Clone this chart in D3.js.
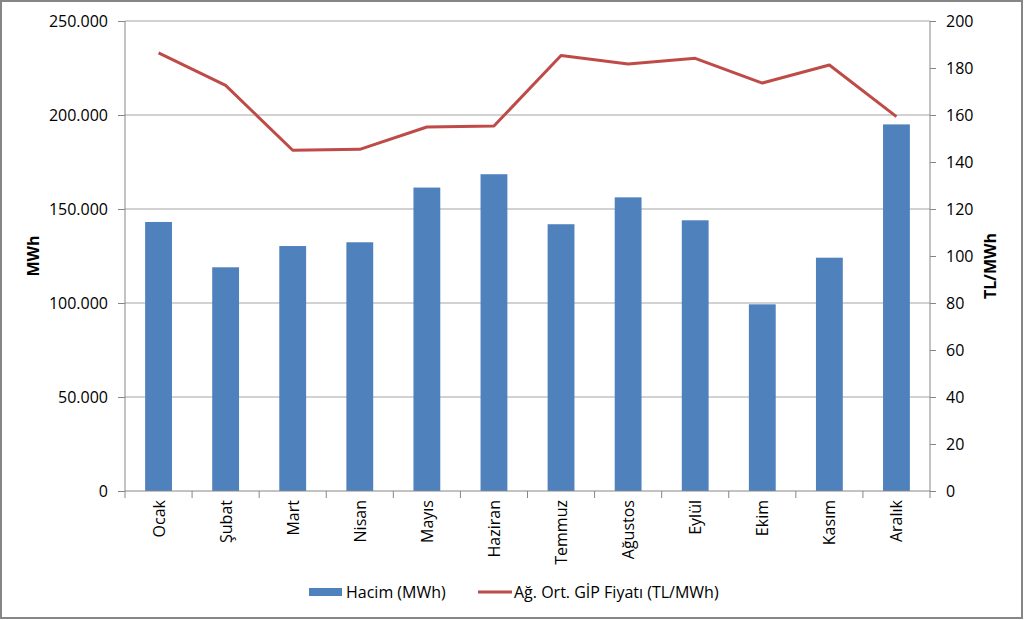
<!DOCTYPE html>
<html>
<head>
<meta charset="utf-8">
<script src="https://cdn.jsdelivr.net/npm/d3@7"></script>
<style>
  body { margin: 0; background: #fff; }
  svg text { font-family: "Open Sans", "Noto Sans", sans-serif; fill: #000; }
</style>
</head>
<body>
<svg id="chart" width="1024" height="620"></svg>
<script>
const months = ["Ocak", "Şubat", "Mart", "Nisan", "Mayıs", "Haziran", "Temmuz", "Ağustos", "Eylül", "Ekim", "Kasım", "Aralık"]
const volume = [143100, 119000, 130300, 132300, 161400, 168500, 141900, 156200, 144000, 99300, 124100, 195000]
const price = [186.4, 172.6, 145.0, 145.4, 154.9, 155.3, 185.3, 181.7, 184.1, 173.6, 181.3, 159.3]
const leftTicks = [0, 50000, 100000, 150000, 200000, 250000]
const rightTicks = [0, 20, 40, 60, 80, 100, 120, 140, 160, 180, 200]

const svg = d3.select("#chart")
const margin = { left: 125, right: 94, top: 21, bottom: 129 }
const width = 1024 - margin.left - margin.right
const height = 620 - margin.top - margin.bottom

// outer frame
svg.append("rect")
  .attr("x", 1).attr("y", 1).attr("width", 1021).attr("height", 617)
  .attr("fill", "#fff").attr("stroke", "#868686").attr("stroke-width", 2)

const g = svg.append("g").attr("transform", "translate(" + margin.left + "," + margin.top + ")")

const x = d3.scaleBand().domain(months).range([0, width]).paddingInner(0.6).paddingOuter(0.3)
const yL = d3.scaleLinear().domain([0, 250000]).range([height, 0])
const yR = d3.scaleLinear().domain([0, 200]).range([height, 0])
const fmt = d3.formatLocale({ decimal: ",", thousands: ".", grouping: [3], currency: ["", ""] }).format(",.0f")

// grid
g.selectAll(".grid").data(leftTicks.slice(1)).enter().append("line")
  .attr("x1", 0).attr("x2", width)
  .attr("y1", d => yL(d)).attr("y2", d => yL(d))
  .attr("stroke", "#a6a6a6").attr("stroke-width", 1.2)

// bars
g.selectAll(".bar").data(volume).enter().append("rect")
  .attr("x", (d, i) => x(months[i]))
  .attr("y", d => yL(d))
  .attr("width", x.bandwidth())
  .attr("height", d => height - yL(d))
  .attr("fill", "#4f81bd")

// price line
const step = x.step()
const line = d3.line()
  .x((d, i) => x(months[i]) + x.bandwidth() / 2)
  .y(d => yR(d))
g.append("path").datum(price)
  .attr("d", line).attr("fill", "none")
  .attr("stroke", "#be4b48").attr("stroke-width", 3).attr("stroke-linejoin", "round")

// left axis
const axL = g.append("g").call(d3.axisLeft(yL).tickValues(leftTicks).tickFormat(fmt).tickSize(7).tickPadding(10))
axL.select(".domain").attr("stroke", "#868686").attr("d", "M0,0V" + height)
axL.selectAll(".tick line").attr("stroke", "#868686")
axL.selectAll("text").style("font-size", "16px")

// right axis
const axR = g.append("g").attr("transform", "translate(" + width + ",0)")
  .call(d3.axisRight(yR).tickValues(rightTicks).tickSize(6).tickPadding(10))
axR.select(".domain").attr("stroke", "#868686").attr("d", "M0,0V" + height)
axR.selectAll(".tick line").attr("stroke", "#868686")
axR.selectAll("text").style("font-size", "16px")

// bottom axis with ticks at band boundaries
const axB = g.append("g").attr("transform", "translate(0," + height + ")")
axB.append("line").attr("x1", 0).attr("x2", width).attr("stroke", "#868686")
axB.selectAll(".bt").data(d3.range(months.length + 1)).enter().append("line")
  .attr("x1", d => d * step).attr("x2", d => d * step)
  .attr("y1", 0).attr("y2", 7).attr("stroke", "#868686")
axB.selectAll(".lbl").data(months).enter().append("text")
  .attr("transform", d => "translate(" + (x(d) + x.bandwidth() / 2 + 6) + ",9) rotate(-90)")
  .attr("text-anchor", "end")
  .style("font-size", "16px")
  .text(d => d)

// axis titles
svg.append("text")
  .attr("transform", "translate(39," + (margin.top + height / 2) + ") rotate(-90)")
  .attr("text-anchor", "middle").style("font-size", "16px").style("font-weight", "bold")
  .text("MWh")
svg.append("text")
  .attr("transform", "translate(996," + (margin.top + height / 2 + 10) + ") rotate(-90)")
  .attr("text-anchor", "middle").style("font-size", "16px").style("font-weight", "bold")
  .text("TL/MWh")

// legend
const lg = svg.append("g").attr("transform", "translate(0,592)")
lg.append("rect").attr("x", 309).attr("y", -4).attr("width", 33).attr("height", 8).attr("fill", "#4f81bd")
lg.append("text").attr("x", 346).attr("y", 6).style("font-size", "16px").text("Hacim (MWh)")
lg.append("line").attr("x1", 478).attr("x2", 512).attr("y1", 0).attr("y2", 0)
  .attr("stroke", "#be4b48").attr("stroke-width", 3)
lg.append("text").attr("x", 514).attr("y", 6).style("font-size", "16px").text("Ağ. Ort. GİP Fiyatı (TL/MWh)")
</script>
</body>
</html>
